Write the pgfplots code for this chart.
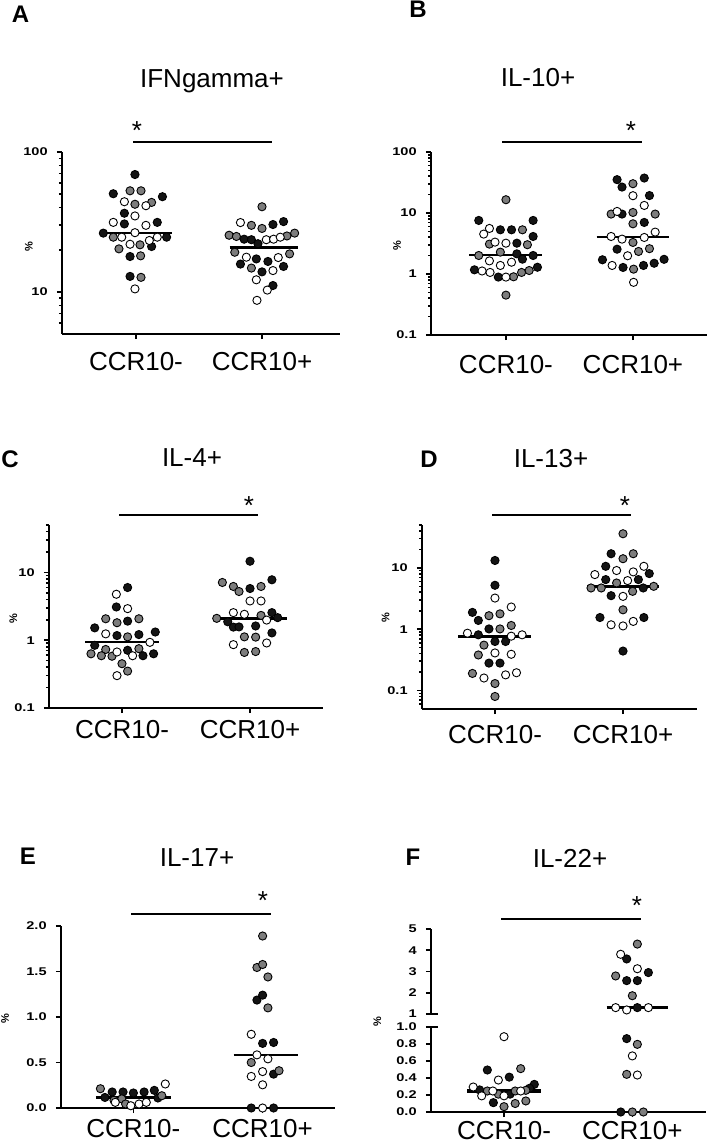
\documentclass[border=0pt]{standalone}
\usepackage{fontspec}
\setmainfont{Liberation Sans}
\usepackage{pgfplots}
\pgfplotsset{compat=1.18}
\definecolor{ptgray}{RGB}{125,125,125}
\definecolor{ptblack}{RGB}{20,20,20}
\pgfplotsset{
  prism/.style={scale only axis, anchor=south west, clip=false,
    axis x line=bottom, axis y line=left,
    axis line style={line width=1pt,-},
    tick style={line width=0.8pt,black}, tick align=outside,
    major tick length=2.6pt, minor tick length=1.5pt,
    xtick={0,1}, xticklabels={CCR10-,CCR10+}, minor xtick={},
    xticklabel style={font=\fontsize{13}{15}\selectfont, anchor=base},
    yticklabel style={font=\fontsize{5.6}{6}\selectfont\bfseries, xscale=1.3},
    ylabel={\%}, ylabel style={font=\fontsize{5.5}{6}\selectfont\bfseries, anchor=center, rotate=0}},
  blk/.style={only marks, mark=*, mark size=2.05pt, mark options={draw=black, fill=ptblack, line width=0.45pt}},
  gry/.style={only marks, mark=*, mark size=2.05pt, mark options={draw=black, fill=ptgray, line width=0.45pt}},
  wht/.style={only marks, mark=*, mark size=2.05pt, mark options={draw=black, fill=white, line width=0.45pt}},
  med/.style={black, line width=1.2pt, no marks}
}
\begin{document}
\begin{tikzpicture}
\path[use as bounding box] (0,0) rectangle (354.5pt,572.5pt);

% ---------- A ----------
\begin{axis}[prism, at={(31pt,405.5pt)}, width=139pt, height=91pt,
  xmin=-0.587, xmax=1.619, ymode=log, ymin=5, ymax=100,
  ytick={10,100}, yticklabels={10,100},
  minor ytick={6,7,8,9,20,30,40,50,60,70,80,90},
  xticklabel style={yshift=-15.5pt},
  ylabel style={at={(axis description cs:-0.119,0.478)}}]
\addplot[blk] coordinates {(-0.008,69) (-0.18,50.3) (0.21,47.9) (-0.092,36.5) (-0.092,30.6) (0.169,31.4) (-0.259,26.3) (0.243,24.6) (0.124,21.1) (-0.047,17.9) (-0.047,12.9)
 (1.087,30.3) (1.171,31.8) (0.858,23.8) (0.916,23.6) (0.968,22.1) (0.955,17.2) (1.047,16.5) (0.829,15.8) (1.0,13.9) (1.171,15.2) (1.087,11.1)};
\addplot[gry] coordinates {(-0.047,52.8) (0.04,52.8) (-0.008,42.3) (0.124,43.6) (-0.18,24.6) (-0.135,20.3) (0.032,21.7) (0.037,18.1) (0.04,12.7)
 (1.0,40.6) (0.916,29.9) (1.0,28.4) (0.739,25.4) (0.797,24.9) (1.198,25.1) (1.259,26.3) (0.784,19.2) (1.219,18.7) (0.916,14.8)};
\addplot[wht] coordinates {(-0.092,44.1) (0.079,41.3) (-0.008,34.9) (-0.18,31.4) (0.079,29.9) (-0.113,24.6) (-0.008,26.5) (0.106,23.3) (0.169,24.6) (-0.047,21.9) (-0.008,10.5)
 (0.829,31.3) (1.034,23.6) (1.092,23.8) (1.145,24.6) (0.876,17.7) (1.129,17.6) (1.087,14.2) (0.955,12.2) (1.042,10.3) (0.96,8.7)};
\addplot[med] coordinates {(-0.286,26.3) (0.286,26.3)};
\addplot[med] coordinates {(0.743,20.8) (1.283,20.8)};
\end{axis}

% ---------- B ----------
\begin{axis}[prism, at={(215.5pt,405pt)}, width=138pt, height=91.5pt,
  xmin=-0.59, xmax=1.583, ymode=log, ymin=0.1, ymax=100,
  ytick={0.1,1,10,100}, yticklabels={0.1,1,10,100},
  minor ytick={0.2,0.3,0.4,0.5,0.6,0.7,0.8,0.9,2,3,4,5,6,7,8,9,20,30,40,50,60,70,80,90},
  xticklabel style={yshift=-16.5pt},
  ylabel style={at={(axis description cs:-0.123,0.49)}}]
\addplot[blk] coordinates {(-0.214,7.55) (0.214,7.55) (-0.044,5.3) (0.044,5.3) (0.214,4.12) (0.086,3.2) (0.086,2.14) (0.13,1.75) (0.214,2.01) (-0.248,1.17) (-0.06,0.89) (0.248,1.29)
 (0.875,35.2) (1.089,37.4) (0.914,26.6) (1.13,19.3) (0.914,9.6) (1.089,7.0) (0.875,2.55) (0.76,1.71) (1.245,1.74) (0.922,1.28) (1.083,1.38) (1.167,1.5)};
\addplot[gry] coordinates {(0,16.5) (0.13,5.3) (-0.13,3.09) (0.169,3.02) (-0.214,2.01) (-0.044,2.28) (0.06,0.9) (0.123,1.06) (0.183,1.14) (0,0.45)
 (1,30.2) (0.828,9.6) (1,10.2) (1.175,9.6) (1,6.65) (1,3.29) (1.044,2.34) (1.13,2.6) (1.005,1.2)};
\addplot[wht] coordinates {(-0.13,5.58) (-0.175,4.51) (-0.086,3.33) (0,3.2) (-0.13,1.64) (0.044,1.56) (-0.044,1.38) (-0.188,1.12) (-0.125,1.06) (0,0.89)
 (1,19.2) (1.089,13.3) (0.875,10.6) (1.175,4.86) (0.828,4.12) (0.914,3.73) (1.089,3.97) (0.958,1.99) (0.836,1.38) (1.005,0.73)};
\addplot[med] coordinates {(-0.287,2.06) (0.287,2.06)};
\addplot[med] coordinates {(0.713,4.02) (1.287,4.02)};
\end{axis}

% ---------- C ----------
\begin{axis}[prism, at={(24.5pt,218.5pt)}, width=137pt, height=91.5pt,
  xmin=-0.57, xmax=1.57, ymode=log, ymin=0.1, ymax=50,
  ytick={0.1,1,10}, yticklabels={0.1,1,10},
  minor ytick={0.2,0.3,0.4,0.5,0.6,0.7,0.8,0.9,2,3,4,5,6,7,8,9,20,30,40,50},
  xticklabel style={yshift=-12.5pt},
  ylabel style={at={(axis description cs:-0.13,0.49)}}]
\addplot[blk] coordinates {(0.044,5.98) (-0.044,3.09) (0.044,1.91) (-0.213,1.52) (-0.039,1.17) (0.132,1.21) (0.26,1.32) (-0.213,0.84) (0.044,0.71) (0.164,0.59) (0.247,0.63)
 (1,14.6) (1.171,7.78) (1,5.78) (1.171,2.55) (0.826,1.87) (1.216,2.15) (0.87,1.56) (0.914,1.57) (1.044,1.62) (1.171,1.28)};
\addplot[gry] coordinates {(-0.127,2.07) (-0.039,1.81) (0.132,2.07) (0.044,1.12) (-0.127,0.73) (0.132,0.75) (-0.242,0.63) (-0.161,0.59) (-0.078,0.58) (0,0.45) (0.044,0.35)
 (0.784,7.1) (0.87,6.2) (0.914,5.22) (1.086,6.2) (1.086,2.32) (0.74,2.1) (0.956,1.12) (1.044,1.11) (0.956,0.66) (1.044,0.68)};
\addplot[wht] coordinates {(-0.044,4.76) (0.044,2.92) (-0.127,1.24) (-0.039,0.67) (0.218,0.93) (0.083,0.59) (-0.039,0.30)
 (1,3.79) (1.086,3.79) (0.87,2.55) (0.956,2.41) (1.13,1.98) (0.87,0.86) (1.13,0.91)};
\addplot[med] coordinates {(-0.286,0.94) (0.286,0.94)};
\addplot[med] coordinates {(0.714,2.1) (1.286,2.1)};
\end{axis}

% ---------- D ----------
\begin{axis}[prism, at={(211pt,218pt)}, width=137.5pt, height=92pt,
  xmin=-0.57, xmax=1.578, ymode=log, ymin=0.05, ymax=50,
  ytick={0.1,1,10}, yticklabels={0.1,1,10},
  minor ytick={0.06,0.07,0.08,0.09,0.2,0.3,0.4,0.5,0.6,0.7,0.8,0.9,2,3,4,5,6,7,8,9,20,30,40,50},
  xticklabel style={yshift=-14.5pt},
  ylabel style={at={(axis description cs:-0.132,0.495)}}]
\addplot[blk] coordinates {(0,13.2) (0,5.2) (-0.176,1.88) (-0.13,1.39) (-0.047,1.01) (-0.13,0.81) (0,0.63) (0.083,0.63) (-0.047,0.28) (0.039,0.28)
 (0.907,17) (0.865,10.6) (1.205,8.07) (0.865,6.44) (1.12,6.44) (1.158,4.7) (0.907,3.52) (0.82,1.55) (1.163,1.55) (1,0.44)};
\addplot[gry] coordinates {(-0.047,1.66) (0.039,1.78) (0.039,1.01) (0.127,1.15) (-0.086,0.55) (-0.13,0.38) (-0.176,0.19) (0,0.13) (0,0.08)
 (1,36) (1.08,17) (1,14.1) (0.95,5.67) (0.75,4.7) (0.83,4.7) (1.24,5.0) (1.075,4.14) (1,2.07)};
\addplot[wht] coordinates {(0,3.22) (0.127,2.3) (-0.215,0.86) (0.127,0.77) (0.212,0.81) (0,0.41) (0.127,0.39) (-0.086,0.16) (0.083,0.18) (0.168,0.195)
 (1.163,10.6) (0.78,7.78) (0.95,9.05) (1.08,8.6) (1.036,6.2) (1,3.43) (0.907,1.18) (1,1.13) (1.08,1.34)};
\addplot[med] coordinates {(-0.285,0.76) (0.285,0.76)};
\addplot[med] coordinates {(0.717,5.0) (1.283,5.0)};
\end{axis}

% ---------- E ----------
\begin{axis}[prism, at={(30.5pt,18.5pt)}, width=137pt, height=91pt,
  xmin=-0.56, xmax=1.56, ymin=0, ymax=2,
  ytick={0,0.5,1,1.5,2}, yticklabels={0.0,0.5,1.0,1.5,2.0},
  xticklabel style={yshift=-12pt},
  ylabel style={at={(axis description cs:-0.204,0.49)}}]
\addplot[blk] coordinates {(-0.164,0.176) (-0.08,0.176) (0,0.165) (0.083,0.176) (0.162,0.194) (-0.22,0.116) (0.19,0.11)
 (0.956,1.186) (1,1.24) (1,0.71) (1.085,0.72) (1.085,0.372) (0.912,0) (1.085,0)};
\addplot[gry] coordinates {(-0.255,0.212) (0.22,0.135) (-0.15,0.085) (-0.09,0.1) (-0.06,0.044)
 (1,1.89) (0.956,1.544) (1,1.577) (1.041,1.44) (1.041,1.10) (0.912,0.5) (1.127,0.41)};
\addplot[wht] coordinates {(0.247,0.264) (-0.14,0.062) (-0.02,0.025) (0.044,0.044) (0.1,0.062)
 (0.912,0.81) (0.956,0.584) (1.041,0.54) (1,0.40) (0.912,0.347) (1,0.255) (1,0)};
\addplot[med] coordinates {(-0.29,0.116) (0.29,0.116)};
\addplot[med] coordinates {(0.776,0.584) (1.276,0.584)};
\end{axis}

% ---------- F upper ----------
\begin{axis}[prism, at={(215.5pt,65.5pt)}, width=137.5pt, height=42.5pt,
  xmin=-0.569, xmax=1.574, ymin=1, ymax=5,
  axis x line=none, xtick=\empty, ylabel={},
  ytick={1,2,3,4,5}, yticklabels={1,2,3,4,5}]
\addplot[blk] coordinates {(0.956,3.59) (1.125,2.95) (0.956,2.57) (1.039,2.57) (1.039,1.3)};
\addplot[gry] coordinates {(1.039,4.29) (0.87,2.79) (1,1.86)};
\addplot[wht] coordinates {(0.909,3.81) (1.039,3.13) (0.87,1.3) (0.956,1.19) (1.125,1.3)};
\addplot[med, line width=1.6pt] coordinates {(0.80,1.3) (1.28,1.3)};
\end{axis}

% ---------- F lower ----------
\begin{axis}[prism, at={(215.5pt,16.5pt)}, width=137.5pt, height=42.5pt,
  xmin=-0.569, xmax=1.574, ymin=0, ymax=1,
  ytick={0,0.2,0.4,0.6,0.8,1}, yticklabels={0.0,0.2,0.4,0.6,0.8,1.0},
  xticklabel style={yshift=-11pt},
  ylabel style={at={(axis description cs:-0.195,1.062)}}]
\addplot[blk] coordinates {(-0.13,0.494) (0.041,0.41) (0.236,0.325) (-0.19,0.26) (0.2,0.28) (0.047,0.21) (-0.083,0.11) (0.956,0.863) (0.91,0)};
\addplot[gry] coordinates {(0.13,0.51) (-0.13,0.247) (-0.044,0.21) (0.087,0.247) (0.17,0.255) (0,0.063) (0.087,0.1) (0.17,0.13) (1.039,0.796) (0.956,0.443) (1,0) (1.086,0)};
\addplot[wht] coordinates {(0,0.886) (-0.044,0.376) (-0.24,0.294) (-0.087,0.247) (0.13,0.247) (-0.174,0.19) (0,0.19) (1,0.66) (1.039,0.435)};
\addplot[med, line width=1.6pt] coordinates {(-0.286,0.247) (0.286,0.247)};
\end{axis}

% ---------- annotations (pixel coordinates) ----------
\begin{scope}[x=0.5pt,y=-0.5pt,shift={(0pt,572.5pt)}]
  \tikzset{ttl/.style={anchor=base, font=\fontsize{13}{15}\selectfont, inner sep=0pt},
           lett/.style={anchor=base, font=\fontsize{12}{14}\selectfont\bfseries, inner sep=0pt},
           star/.style={anchor=base, font=\fontsize{13}{15}\selectfont, inner sep=0pt}}
  \node[lett] at (20.5,23) {A};
  \node[lett] at (418,18) {B};
  \node[lett] at (10,468) {C};
  \node[lett] at (429,468) {D};
  \node[lett] at (28,865) {E};
  \node[lett] at (413,866) {F};
  \node[ttl] at (212,88) {IFNgamma+};
  \node[ttl] at (538,87) {IL-10+};
  \node[ttl] at (192,467) {IL-4+};
  \node[ttl] at (551,468) {IL-13+};
  \node[ttl] at (197,867) {IL-17+};
  \node[ttl] at (570,868) {IL-22+};
  \draw[line width=0.7pt] (133,142) -- (272,142);
  \draw[line width=0.7pt] (502,142) -- (642,142);
  \draw[line width=0.7pt] (119,515) -- (258,515);
  \draw[line width=0.7pt] (492,515) -- (631,515);
  \draw[line width=0.7pt] (131,914) -- (271,914);
  \draw[line width=0.7pt] (501,919) -- (641,919);
  \node[star] at (137,140) {*};
  \node[star] at (631,140) {*};
  \node[star] at (249,515) {*};
  \node[star] at (625,515) {*};
  \node[star] at (263,910) {*};
  \node[star] at (637,915) {*};
  \draw[line width=0.9pt] (426,1014) -- (438,1014);
  \draw[line width=0.9pt] (426,1027) -- (438,1027);
\end{scope}
\end{tikzpicture}
\end{document}
